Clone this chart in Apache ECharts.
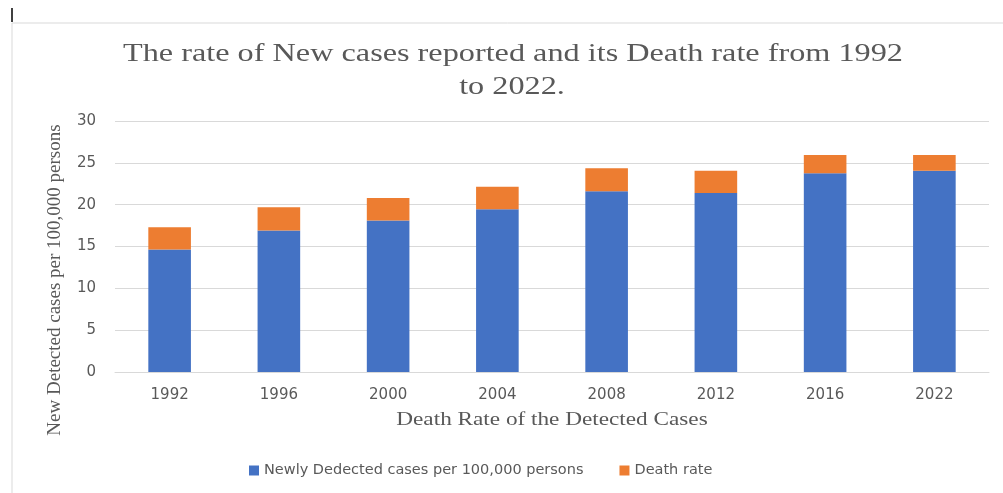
<!DOCTYPE html>
<html>
<head>
<meta charset="utf-8">
<script src="https://cdn.jsdelivr.net/npm/echarts@6/dist/echarts.min.js"></script>
<style>
  html, body { margin: 0; padding: 0; background: #ffffff; }
  #chart { width: 1003px; height: 493px; }
</style>
</head>
<body>
<div id="chart"></div>
<script>
// Survey years along the horizontal axis
const years = ['1992', '1996', '2000', '2004', '2008', '2012', '2016', '2022'];
// Newly detected cases per 100,000 persons
const newCases = [14.65, 16.9, 18.1, 19.45, 21.6, 21.4, 23.75, 24.05];
// Death rate, stacked on top of the new cases
const deathRate = [2.65, 2.8, 2.7, 2.7, 2.75, 2.65, 2.2, 1.9];
// Value axis ticks
const yTicks = [0, 5, 10, 15, 20, 25, 30];

const titleLines = ['The rate of New cases reported and its Death rate from 1992', 'to 2022.'];
const xAxisTitle = 'Death Rate of the Detected Cases';
const yAxisTitle = 'New Detected cases per 100,000 persons';
const seriesNames = ['Newly Dedected cases per 100,000 persons', 'Death rate'];

const gray = '#595959';
const serif = '"Liberation Serif", "Times New Roman", serif';
const sans = '"DejaVu Sans", Verdana, sans-serif';

const chart = echarts.init(document.getElementById('chart'), null, { renderer: 'canvas' });

// Serif heading text, optionally widened or rotated
function headingText(text, x, y, size, scaleX, rotation) {
  return {
    type: 'text',
    x: x,
    y: y,
    scaleX: scaleX,
    rotation: rotation,
    style: {
      text: text,
      fontFamily: serif,
      fontSize: size,
      fill: gray,
      align: 'center',
      verticalAlign: 'middle'
    }
  };
}

chart.setOption({
  animation: false,
  backgroundColor: '#ffffff',
  legend: {
    top: 458,
    left: 244,
    itemWidth: 10,
    itemHeight: 10,
    itemGap: 36,
    icon: 'rect',
    textStyle: { fontFamily: sans, fontSize: 14.5, color: gray },
    data: seriesNames
  },
  grid: {
    left: 115,
    right: 14,
    top: 121,
    bottom: 121,
    containLabel: false
  },
  xAxis: {
    type: 'category',
    data: years,
    axisLine: { show: true, lineStyle: { color: '#d9d9d9', width: 1 } },
    axisTick: { show: false },
    axisLabel: { fontFamily: sans, fontSize: 15, color: gray, margin: 16 }
  },
  yAxis: {
    type: 'value',
    min: yTicks[0],
    max: yTicks[yTicks.length - 1],
    interval: yTicks[1] - yTicks[0],
    axisLine: { show: false },
    axisTick: { show: false },
    axisLabel: { fontFamily: sans, fontSize: 15, color: gray, margin: 19 },
    splitLine: { lineStyle: { color: '#d9d9d9', width: 1 } }
  },
  series: [
    {
      name: seriesNames[0],
      type: 'bar',
      stack: 'total',
      data: newCases,
      barWidth: '39%',
      itemStyle: { color: '#4472c4' }
    },
    {
      name: seriesNames[1],
      type: 'bar',
      stack: 'total',
      data: deathRate,
      barWidth: '39%',
      itemStyle: { color: '#ed7d31' }
    }
  ],
  graphic: [
    headingText(titleLines[0], 513, 54, 25, 1.29, 0),
    headingText(titleLines[1], 512, 87, 25, 1.29, 0),
    headingText(xAxisTitle, 552, 420, 18, 1.29, 0),
    headingText(yAxisTitle, 55, 280, 19, 1, Math.PI / 2),
    // frame around the chart area
    { type: 'line', shape: { x1: 12, y1: 23, x2: 1003, y2: 23 }, style: { stroke: '#d9d9d9', lineWidth: 1 } },
    { type: 'line', shape: { x1: 12, y1: 23, x2: 12, y2: 493 }, style: { stroke: '#d9d9d9', lineWidth: 1 } },
    { type: 'line', shape: { x1: 12, y1: 8, x2: 12, y2: 22 }, style: { stroke: '#000000', lineWidth: 1.5 } }
  ]
});
</script>
</body>
</html>
